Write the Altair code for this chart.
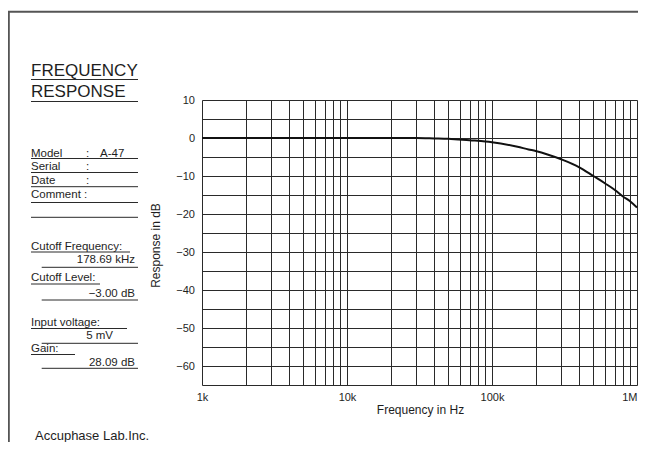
import altair as alt
import pandas as pd

# ---------------- data ----------------
freq_hz = [1000, 2000, 5000, 10000, 20000, 30000, 40000, 50000, 70000, 90000,
           100000, 150000, 178690, 200000, 300000, 400000, 500000, 600000,
           700000, 800000, 900000, 1000000]
response_db = [0.0, 0.0, 0.0, 0.0, 0.0, 0.0, -0.1, -0.2, -0.6, -0.9,
               -1.1, -2.3, -3.0, -3.4, -5.6, -7.7, -10.0, -11.9,
               -13.6, -15.4, -16.7, -18.3]

x_grid = [1000, 2000, 3000, 4000, 5000, 6000, 7000, 8000, 9000,
          10000, 20000, 30000, 40000, 50000, 60000, 70000, 80000, 90000,
          100000, 200000, 300000, 400000, 500000, 600000, 700000, 800000, 900000,
          1000000]
y_grid = [10, 5, 0, -5, -10, -15, -20, -25, -30, -35, -40, -45, -50, -55, -60, -65]

title_lines = ["FREQUENCY", "RESPONSE"]
info_keys = ["Model", "Serial", "Date", "Comment"]
model_value = "A-47"
result_keys = ["Cutoff Frequency:", "Cutoff Level:", "Input voltage:", "Gain:"]
result_values = ["178.69 kHz", "\u22123.00 dB", "5 mV", "28.09 dB"]
company = "Accuphase Lab.Inc."

# ---------------- layout ----------------
FONT = "Liberation Sans"
W, H = 435, 285
PAD_L, PAD_T = 194, 92
TOTAL_W, TOTAL_H = 630, 434
X0, Y0 = 8 + PAD_L, 8 + PAD_T  # page position of plot origin
INK = "#1e1e1e"
LINE = "#2a2a2a"
SMALL = 11.5

df = pd.DataFrame({"freq": freq_hz, "db": response_db})
one = pd.DataFrame({"k": [0]})


def txt(s, px, py, size=SMALL, align="left"):
    return alt.Chart(one).mark_text(
        text=s, fontSize=size, align=align, baseline="alphabetic",
        color=INK, font=FONT
    ).encode(x=alt.value(px - X0), y=alt.value(py - Y0))


def hline(px1, px2, py, color=LINE, w=1):
    return alt.Chart(one).mark_rule(color=color, strokeWidth=w).encode(
        x=alt.value(px1 - X0), x2=alt.value(px2 - X0), y=alt.value(py - Y0))


def vline(px, py1, py2, color=LINE, w=1):
    return alt.Chart(one).mark_rule(color=color, strokeWidth=w).encode(
        x=alt.value(px - X0), y=alt.value(py1 - Y0), y2=alt.value(py2 - Y0))


x_label_expr = ("datum.value == 1000 ? '1k' : datum.value == 10000 ? '10k' : "
                "datum.value == 100000 ? '100k' : datum.value == 1000000 ? '1M' : ''")
y_label_expr = "datum.value % 10 == 0 ? datum.label : ''"

curve = alt.Chart(df).mark_line(
    color="#111111", strokeWidth=2, interpolate="monotone"
).encode(
    x=alt.X("freq:Q",
            scale=alt.Scale(type="log", domain=[1000, 1000000], nice=False),
            axis=alt.Axis(values=x_grid, labelExpr=x_label_expr, grid=True,
                          gridColor=LINE, gridWidth=1, gridOpacity=1,
                          ticks=False, tickSize=0, domain=False,
                          labelFlush=False, labelOverlap=False,
                          labelAlign={"condition": {"test": "datum.value >= 1000000",
                                                    "value": "right"},
                                      "value": "center"},
                          labelBaseline="alphabetic", labelPadding=15,
                          labelFontSize=11, labelColor=INK, labelFont=FONT,
                          title="Frequency in Hz", titleFontSize=12,
                          titleFontWeight="normal", titleColor=INK, titleFont=FONT,
                          titleBaseline="alphabetic", titleX=218, titleY=28)),
    y=alt.Y("db:Q",
            scale=alt.Scale(domain=[-65, 10], nice=False, zero=False),
            axis=alt.Axis(values=y_grid, labelExpr=y_label_expr, grid=True,
                          gridColor=LINE, gridWidth=1, gridOpacity=1,
                          ticks=False, tickSize=0, domain=False,
                          labelOverlap=False, labelPadding=7.5,
                          labelFontSize=11, labelColor=INK, labelFont=FONT,
                          title="Response in dB", titleFontSize=12,
                          titleFontWeight="normal", titleColor=INK, titleFont=FONT,
                          titleAngle=270, titleAlign="center", titleBaseline="middle",
                          titleX=-46.5, titleY=145))
)

layers = [curve]

# outer frame (top and left)
layers.append(hline(8, 646, 11.7, color="#555555", w=2))
layers.append(vline(8.8, 11.7, 450, color="#555555", w=2))

# title block
layers.append(txt(title_lines[0], 31, 75.5, size=17))
layers.append(hline(31, 138, 79.5))
layers.append(txt(title_lines[1], 31, 96.5, size=17))
layers.append(hline(31, 138, 101.5))

# info rows
info_base = [156.5, 170.0, 184.0, 198.0]
info_line = [158.5, 172.5, 186.7, 202.5]
for i, key in enumerate(info_keys):
    layers.append(txt(key, 31, info_base[i]))
    layers.append(txt(":", 84 if key == "Comment" else 86, info_base[i]))
    layers.append(hline(31, 138, info_line[i]))
layers.append(txt(model_value, 100, info_base[0]))
layers.append(hline(31, 138, 217.3))

# results block
key_base = [249.5, 280.5, 326.0, 352.0]
key_line_end = [130, 100, 127, 75]
key_line = [252.0, 284.0, 328.5, 354.5]
val_base = [263.0, 297.0, 339.0, 366.0]
val_right = [135, 135, 113, 135]
val_line = [267.3, 300.0, 343.3, 368.3]
for i in range(4):
    layers.append(txt(result_keys[i], 31, key_base[i]))
    layers.append(hline(31, key_line_end[i], key_line[i]))
    layers.append(txt(result_values[i], val_right[i], val_base[i], align="right"))
    layers.append(hline(41.7, 138, val_line[i]))

layers.append(txt(company, 35, 439.5, size=13))

chart = alt.layer(*layers).properties(
    width=W, height=H,
    autosize=alt.AutoSizeParams(type="none"),
    padding={"left": PAD_L, "top": PAD_T,
             "right": TOTAL_W - PAD_L - W, "bottom": TOTAL_H - PAD_T - H},
).configure_view(
    stroke=LINE, strokeWidth=1.5
).configure(background="white")

chart.save("out.html", embed_options={"renderer": "svg", "actions": False})
